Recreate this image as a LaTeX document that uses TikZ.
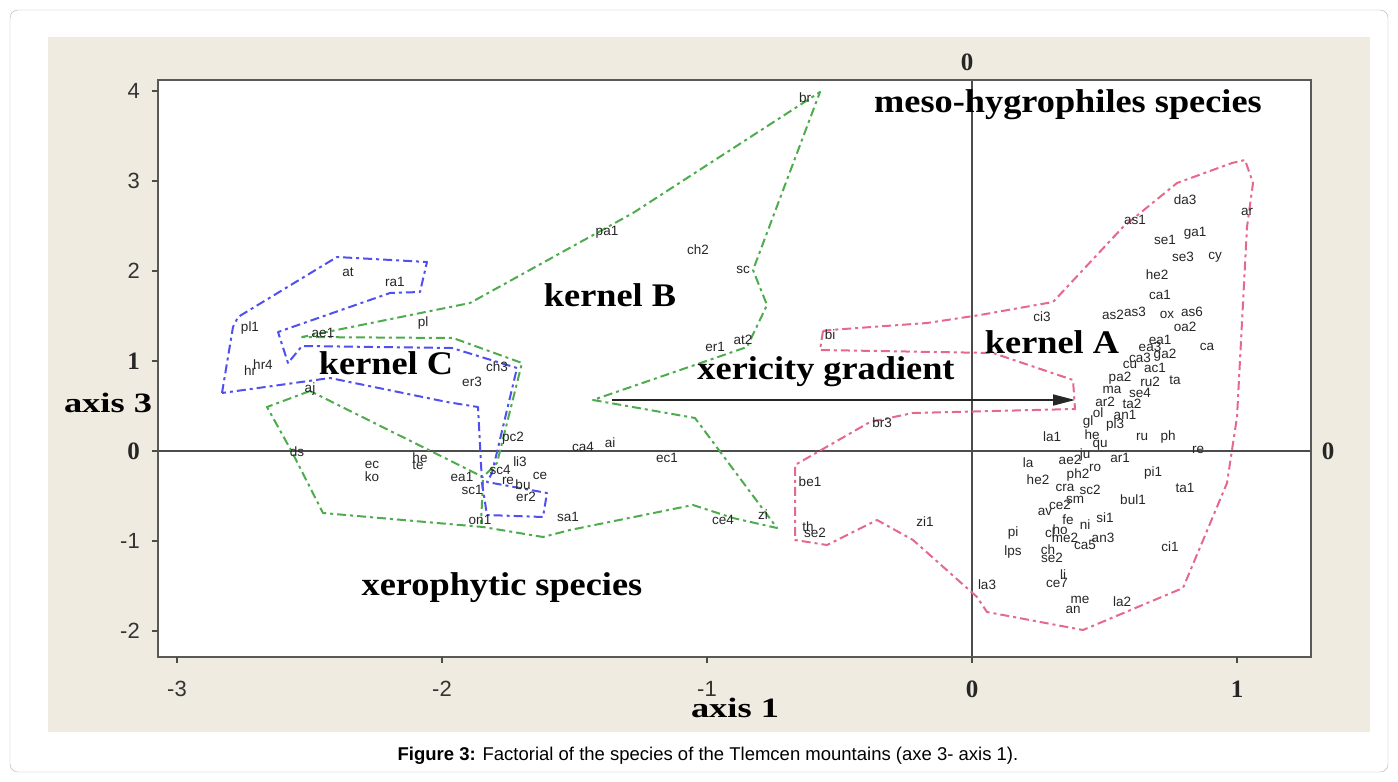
\documentclass[tikz,border=0pt]{standalone}
\usepackage{fontspec}
\setmainfont{Liberation Serif}
\setsansfont{Liberation Sans}
\newfontfamily\kernfont[FakeStretch=1.1]{Liberation Serif}
\newfontfamily\axisfont[FakeStretch=1.3]{Liberation Serif}
\newfontfamily\capfont{Liberation Sans}
\usetikzlibrary{arrows.meta}

\definecolor{panel}{RGB}{239,235,225}
\definecolor{framegray}{RGB}{175,175,175}
\definecolor{kerA}{RGB}{230,105,140}
\definecolor{kerB}{RGB}{78,172,78}
\definecolor{kerC}{RGB}{80,80,240}

\tikzset{
  sp/.style={font=\sffamily\fontsize{13.5}{13.5}\selectfont, text=black!85, inner sep=0pt},
  kern/.style={font=\kernfont\bfseries\fontsize{33}{36}\selectfont, inner sep=0pt},
  axlabel/.style={font=\axisfont\bfseries\fontsize{28}{30}\selectfont, inner sep=0pt},
  tsans/.style={font=\sffamily\fontsize{22}{22}\selectfont, text=black!80, inner sep=0pt},
  tserif/.style={font=\bfseries\fontsize{25}{25}\selectfont, text=black!85, inner sep=0pt},
  hull/.style={line width=2pt, dash pattern=on 9pt off 4pt on 3pt off 4pt, line join=round},
  zeroline/.style={gray!60!black, line width=1.6pt}
}

\begin{document}
\begin{tikzpicture}[x=1pt, y=-1pt]
    \useasboundingbox (0,0) rectangle (1398,782);

    % Frame and panel
    \draw[framegray, rounded corners=8pt] (10,10) rectangle (1388,772);
    \fill[panel] (48,37) rectangle (1370,732);
    \fill[white] (158,80) rectangle (1311,657);

    % Zero lines
    \draw[zeroline] (158,451) -- (1311,451);
    \draw[zeroline] (972,80) -- (972,657);

    % Plot border and ticks
    \draw[black!65, line width=2pt] (158,80) rectangle (1311,657);
    \foreach \v in {-2,...,4}
        \draw[black!70, line width=1.2pt] (152,{451-90*\v}) -- (158,{451-90*\v});
    \foreach \v in {-3,...,1}
        \draw[black!70, line width=1.2pt] ({972+265*\v},657) -- ({972+265*\v},663);
    \foreach \v/\f in {4/tsans, 3/tsans, 2/tsans, 1/tserif, 0/tserif, -1/tsans, -2/tsans}
        \node[\f, anchor=east] (ty\v) at (140,{451-90*\v}) {\v};
    \foreach \v/\f in {-3/tsans, -2/tsans, -1/tsans, 0/tserif, 1/tserif}
        \node[\f] (tx\v) at ({972+265*\v},689) {\v};
    \node[tserif] (ztop) at (967,62) {0};
    \node[tserif] (zright) at (1328,451) {0};
    \node[axlabel] (ax1) at (735,708) {axis 1};
    \node[axlabel] (ax3) at (108,403) {axis 3};

    % Kernel A hull
    \draw[hull, kerA] (823,331) -- (820,350) -- (993,353) -- (1073,380) -- (1075,409)
        -- (913,413) -- (870,422) -- (795,465) -- (795,540) -- (827,545) -- (877,520)
        -- (913,540) -- (977,597) -- (987,612) -- (1083,630) -- (1183,588) -- (1227,483)
        -- (1237,417) -- (1247,227) -- (1253,183) -- (1245,160) -- (1232,163) -- (1177,183)
        -- (1123,227) -- (1053,302) -- (980,315) -- (927,323) -- (830,330) -- cycle;

    % Kernel B hull
    \draw[hull, kerB] (310,391) -- (267,407) -- (292,452) -- (323,513) -- (483,527)
        -- (543,537) -- (570,530) -- (693,505) -- (733,518) -- (777,528) -- (695,418)
        -- (593,400) -- (747,347) -- (767,305) -- (753,270) -- (820,92) -- (633,213)
        -- (470,303) -- (302,337) -- (453,338) -- (522,363) -- (497,463) -- (483,477) -- cycle;
    \draw[hull, kerB] (483,480) -- (481,524);

    % Kernel C hull
    \draw[hull, kerC] (222,393) -- (233,327) -- (238,317) -- (337,257) -- (427,262)
        -- (420,292) -- (390,293) -- (278,332) -- (288,363) -- (302,346) -- (452,348)
        -- (517,368) -- (492,473) -- (487,482) -- (547,493) -- (543,517) -- (487,515)
        -- (482,483) -- (478,407) -- (447,402) -- (330,378) -- cycle;

    % Xericity gradient
    \coordinate (gs) at (612,400);
    \coordinate (ge) at (1075,400);
    \draw[black!85, line width=1.6pt, -{Triangle[length=22pt, width=11pt]}] (gs) -- (ge);

    % Species, left part
    \foreach \lx/\ly/\lt [count=\i] in {348/272/at, 395/282/ra1, 250/328/pl1, 323/333/ae1,
        423/323/pl, 263/365/hr4, 250/371/hr, 310/389/aj, 497/367/ch3, 472/382/er3,
        297/452/ds, 372/465/ec, 372/477/ko, 420/458/he, 418/465/te, 513/438/pc2,
        520/462/li3, 462/477/ea1, 472/490/sc1, 500/470/sc4, 508/481/re, 523/485/bu,
        540/476/ce, 526/497/er2, 480/520/on1, 568/517/sa1, 805/98/br, 607/232/pa1,
        698/250/ch2, 743/270/sc, 715/347/er1, 743/340/at2, 583/447/ca4, 610/443/ai,
        667/458/ec1, 723/520/ce4, 763/515/zi, 830/335/bi, 810/482/be1, 808/527/th,
        815/533/se2, 882/423/br3, 925/522/zi1}
        \node[sp] (sl\i) at (\lx,\ly) {\lt};

    % Species, kernel A
    \foreach \lx/\ly/\lt [count=\i] in {1042/317/ci3, 1135/220/as1, 1185/200/da3,
        1165/240/se1, 1195/233/ga1, 1183/257/se3, 1215/257/cy, 1157/275/he2,
        1160/295/ca1, 1113/315/as2, 1135/312/as3, 1167/315/ox, 1192/312/as6,
        1185/327/oa2, 1207/347/ca, 1175/380/ta, 1052/437/la1, 1092/435/he,
        1142/437/ru, 1168/437/ph, 1198/450/re, 1028/463/la, 1153/473/pi1,
        1185/488/ta1, 1038/480/he2, 1133/500/bul1, 1045/512/av, 1105/518/si1,
        1013/533/pi, 1103/538/an3, 1170/547/ci1, 1013/552/lps, 1048/550/ch,
        1052/558/se2, 987/585/la3, 1063/575/li, 1057/583/ce7, 1080/600/me,
        1073/610/an, 1122/602/la2, 1247/212/ar, 1050/533/cl}
        \node[sp] (sa\i) at (\lx,\ly) {\lt};

    % Species, dense cluster
    \foreach \lx/\ly/\lt [count=\i] in {1160/340/ea1, 1150/347/ea3, 1165/355/ga2,
        1140/358/ca3, 1130/365/cu, 1155/368/ac1, 1120/378/pa2, 1150/382/ru2,
        1112/390/ma, 1140/393/se4, 1105/402/ar2, 1132/404/ta2, 1098/413/ol,
        1125/415/an1, 1088/422/gl, 1115/425/pl3, 1100/445/qu, 1085/455/ju,
        1120/458/ar1, 1070/460/ae2, 1095/468/ro, 1078/475/ph2, 1065/488/cra,
        1090/490/sc2, 1075/500/sm, 1060/505/ce2, 1068/520/fe, 1085/525/ni,
        1065/538/me2, 1085/545/ca5, 1060/530/ho}
        \node[sp] (sc\i) at (\lx,\ly) {\lt};

    % Annotations
    \node[kern] (meso) at (1068,105) {meso-hygrophiles species};
    \node[kern] (kB) at (610,295) {kernel B};
    \node[kern] (kC) at (386,363) {kernel C};
    \node[kern] (kA) at (1052,342) {kernel A};
    \node[kern] (xer) at (826,372) {xericity gradient};
    \node[kern] (xsp) at (502,588) {xerophytic species};

    % Caption
    \node[font=\capfont\fontsize{18.5}{20}\selectfont] (cap) at (708,756)
        {\textbf{Figure 3:} Factorial of the species of the Tlemcen mountains (axe 3- axis 1).};
\end{tikzpicture}
\end{document}
